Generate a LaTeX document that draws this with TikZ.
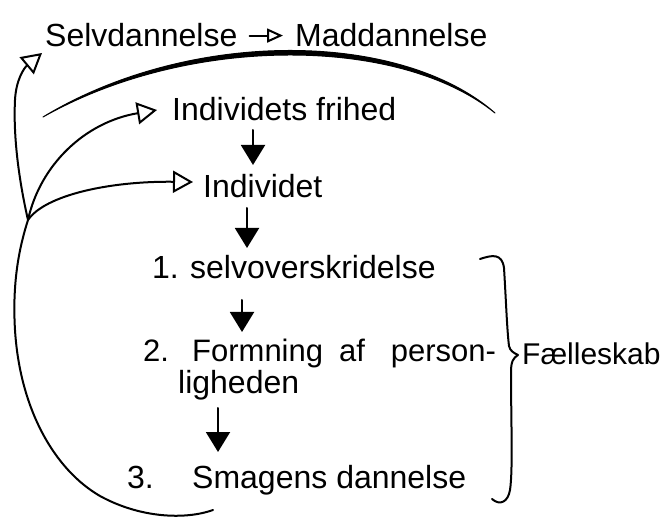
\documentclass[tikz,border=0pt]{standalone}
\usepackage{fontspec}
\setmainfont{Liberation Sans}
\usetikzlibrary{arrows.meta}
\begin{document}
\begin{tikzpicture}[x=1pt,y=-1pt,
  txt/.style={anchor=base west, inner sep=0pt, font=\fontsize{32}{38}\selectfont},
  hand/.style={line width=2pt, line cap=round, line join=round},
  openarr/.style={hand, -{Triangle[open,width=22pt,length=20pt]}},
  smallarr/.style={hand, -{Triangle[open,width=14pt,length=16pt]}},
  dnarr/.style={hand, -{Triangle[width=24pt,length=20pt]}}]
\useasboundingbox (0,0) rectangle (669,518);
% text nodes
\node[txt] (sd) at (45,47) {Selvdannelse};
\node[txt] (md) at (295,47) {Maddannelse};
\node[txt] (ifr) at (172,121) {Individets frihed};
\node[txt] (ind) at (203,198) {Individet};
\node[txt] (s1) at (152,279) {\makebox[38pt][l]{1.}selvoverskridelse};
\node[txt, font=\fontsize{31}{37}\selectfont] (s2) at (143,362) {\makebox[49pt][l]{2.}Formning\hspace{16pt}af\hspace{26pt}person-};
\node[txt] (s2b) at (178,393) {ligheden};
\node[txt] (s3) at (127,488) {\makebox[65pt][l]{3.}Smagens dannelse};
\node[txt, font=\fontsize{30}{36}\selectfont] (fk) at (522,364) {Fælleskab};
% helper coordinates
\coordinate (br) at (28,220);
\coordinate (bot) at (213,510);
% top arrow
\draw[smallarr] ([xshift=12pt]sd.east) -- ([xshift=-12pt]md.west);
% big arc
\filldraw[line width=1pt, line join=round] (43,117) .. controls (190,28) and (400,30) .. (495,113)
  .. controls (400,36) and (190,34) .. cycle;
% big loop back to Selvdannelse
\draw[openarr] (bot) .. controls (185,520) and (140,518) .. (100,496)
  .. controls (55,470) and (20,410) .. (15,330)
  .. controls (12,280) and (20,245) .. (br)
  .. controls (20,185) and (13,140) .. (15,100)
  .. controls (16,80) and (24,68) .. ([shift={(-3,6)}]sd.base west);
% branches
\draw[openarr] (br) .. controls (40,165) and (85,122) .. ([shift={(-15,-11)}]ifr.base west);
\draw[openarr] (br) .. controls (45,195) and (110,181) .. ([shift={(-10,-16)}]ind.base west);
% down arrows
\draw[dnarr] ([shift={(81,9)}]ifr.base west) -- ([shift={(50,-33)}]ind.base west);
\draw[dnarr] ([shift={(44,10)}]ind.base west) -- ([shift={(95,-31)}]s1.base west);
\draw[dnarr] ([shift={(90,21)}]s1.base west) -- ([shift={(99,-30)}]s2.base west);
\draw[dnarr] ([shift={(40,15)}]s2b.base west) -- ([shift={(91,-36)}]s3.base west);
% brace
\draw[hand] (480,259) .. controls (492,255) and (502,253) .. (504,268)
  .. controls (506,300) and (507,330) .. (509,346)
  .. controls (510,351) and (514,353) .. (518,355)
  .. controls (513,358) and (511,362) .. (511,372)
  .. controls (511,420) and (513,470) .. (510,490)
  .. controls (508,502) and (500,506) .. (492,499);
\end{tikzpicture}
\end{document}
